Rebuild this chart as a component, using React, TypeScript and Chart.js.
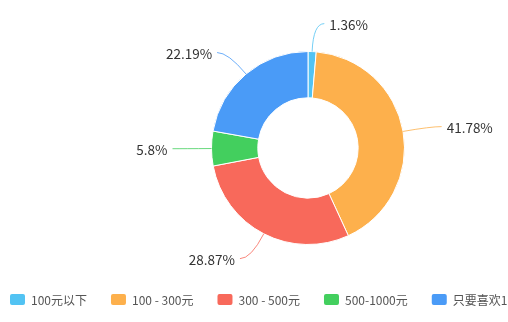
import React, { useEffect, useRef } from "react";
import { Chart, registerables } from "chart.js";

Chart.register(...registerables);

const categories = ["100元以下", "100 - 300元", "300 - 500元", "500-1000元", "只要喜欢1000元以上"];
const values = [1.36, 41.78, 28.87, 5.8, 22.19];
const colors = ["#52C3F3", "#FDB04C", "#F8695B", "#43CF5E", "#4A9BF7"];

const FONT = '"Noto Sans CJK SC", "Noto Sans", sans-serif';

const labelPlugin = {
  id: "outerLabels",
  afterDatasetsDraw(chart: any) {
    const ctx = chart.ctx;
    const meta = chart.getDatasetMeta(0);
    const data = chart.data.datasets[0].data;
    ctx.save();
    meta.data.forEach((arc: any, i: number) => {
      const { x, y, startAngle, endAngle, outerRadius } = arc.getProps(
        ["x", "y", "startAngle", "endAngle", "outerRadius"],
        true
      );
      const mid = (startAngle + endAngle) / 2;
      const c = Math.cos(mid);
      const s = Math.sin(mid);
      const p0x = x + c * outerRadius;
      const p0y = y + s * outerRadius;
      const p1x = x + c * (outerRadius + 28);
      const p1y = y + s * (outerRadius + 28);
      const dir = c >= 0 ? 1 : -1;
      const p2x = p1x + dir * 11;
      const p2y = p1y;
      ctx.beginPath();
      ctx.moveTo(p0x, p0y);
      ctx.quadraticCurveTo(p1x, p1y, p2x, p2y);
      ctx.strokeStyle = colors[i];
      ctx.globalAlpha = 0.8;
      ctx.lineWidth = 1;
      ctx.stroke();
      ctx.globalAlpha = 1;
      ctx.font = `13.5px ${FONT}`;
      ctx.fillStyle = "#333";
      ctx.textAlign = dir > 0 ? "left" : "right";
      ctx.textBaseline = "middle";
      ctx.fillText(`${data[i]}%`, p2x + dir * 5, p2y + 1);
    });
    ctx.restore();
  },
};

const legendPlugin = {
  id: "bottomLegend",
  afterDraw(chart: any) {
    const ctx = chart.ctx;
    ctx.save();
    ctx.font = `12px ${FONT}`;
    ctx.textBaseline = "middle";
    ctx.textAlign = "left";
    let xPos = 10;
    const yMid = 300;
    chart.data.labels.forEach((label: string, i: number) => {
      ctx.fillStyle = colors[i];
      ctx.beginPath();
      (ctx as any).roundRect(xPos, yMid - 6, 15, 11, 2);
      ctx.fill();
      ctx.fillStyle = "#555";
      ctx.fillText(label, xPos + 21, yMid);
      xPos += 21 + ctx.measureText(label).width + 24;
    });
    ctx.restore();
  },
};

export default function App() {
  const ref = useRef<HTMLCanvasElement | null>(null);
  useEffect(() => {
    if (!ref.current) return;
    const chart = new Chart(ref.current, {
      type: "doughnut",
      data: {
        labels: categories,
        datasets: [
          {
            data: values,
            backgroundColor: colors,
            borderColor: "#ffffff",
            borderWidth: 1,
          },
        ],
      },
      options: {
        animation: false,
        responsive: false,
        devicePixelRatio: 1,
        cutout: "52%",
        layout: { padding: { left: 211, right: 103, top: 51, bottom: 77 } },
        plugins: {
          legend: { display: false },
          tooltip: { enabled: false },
        },
      },
      plugins: [labelPlugin, legendPlugin],
    });
    return () => chart.destroy();
  }, []);
  return (
    <div style={{ position: "fixed", left: 0, top: 0, width: 508, height: 322, background: "#fff" }}>
      <canvas ref={ref} width={508} height={322} />
    </div>
  );
}
